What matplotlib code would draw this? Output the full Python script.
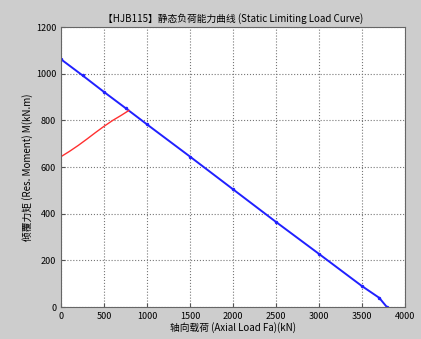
import matplotlib
matplotlib.use("Agg")
from matplotlib import pyplot as plt

plt.rcParams['font.family'] = ['Noto Sans CJK SC', 'DejaVu Sans']

# blue: static limiting load line
blue_fa = [0, 250, 500, 750, 1000, 1500, 2000, 2500, 3000, 3500, 3700, 3790]
blue_m = [1062, 993, 922, 853, 783, 645, 505, 365, 228, 90, 40, 0]
# red: moment branch
red_fa = [0, 100, 200, 300, 400, 500, 600, 700, 790]
red_m = [645, 668, 693, 720, 748, 775, 800, 822, 843]

xticks = [0, 500, 1000, 1500, 2000, 2500, 3000, 3500, 4000]
yticks = [0, 200, 400, 600, 800, 1000, 1200]

fig = plt.figure(figsize=(4.21, 3.39), dpi=100, facecolor='#cdcdcd')
ax = fig.add_axes([0.145, 0.094, 0.817, 0.826])
ax.set_facecolor('white')

ax.plot(blue_fa, blue_m, color='#2020ff', lw=1.4, marker='.', ms=3)
ax.plot(red_fa, red_m, color='#ff3030', lw=1.0)

ax.set_xlim(0, 4000)
ax.set_ylim(0, 1200)
ax.set_xticks(xticks)
ax.set_yticks(yticks)
ax.tick_params(labelsize=6.5, length=3, direction='in', color='#555555')
ax.grid(True, linestyle=':', color='#777777', lw=0.8)
for s in ax.spines.values():
    s.set_color('#666666')

ax.set_title('【HJB115】静态负荷能力曲线 (Static Limiting Load Curve)', fontsize=7, pad=4)
ax.set_xlabel('轴向载荷 (Axial Load Fa)(kN)', fontsize=7, labelpad=1)
ax.set_ylabel('倾覆力矩 (Res. Moment) M(kN.m)', fontsize=7, labelpad=2)

fig.savefig('out.png', dpi=100, facecolor=fig.get_facecolor())
